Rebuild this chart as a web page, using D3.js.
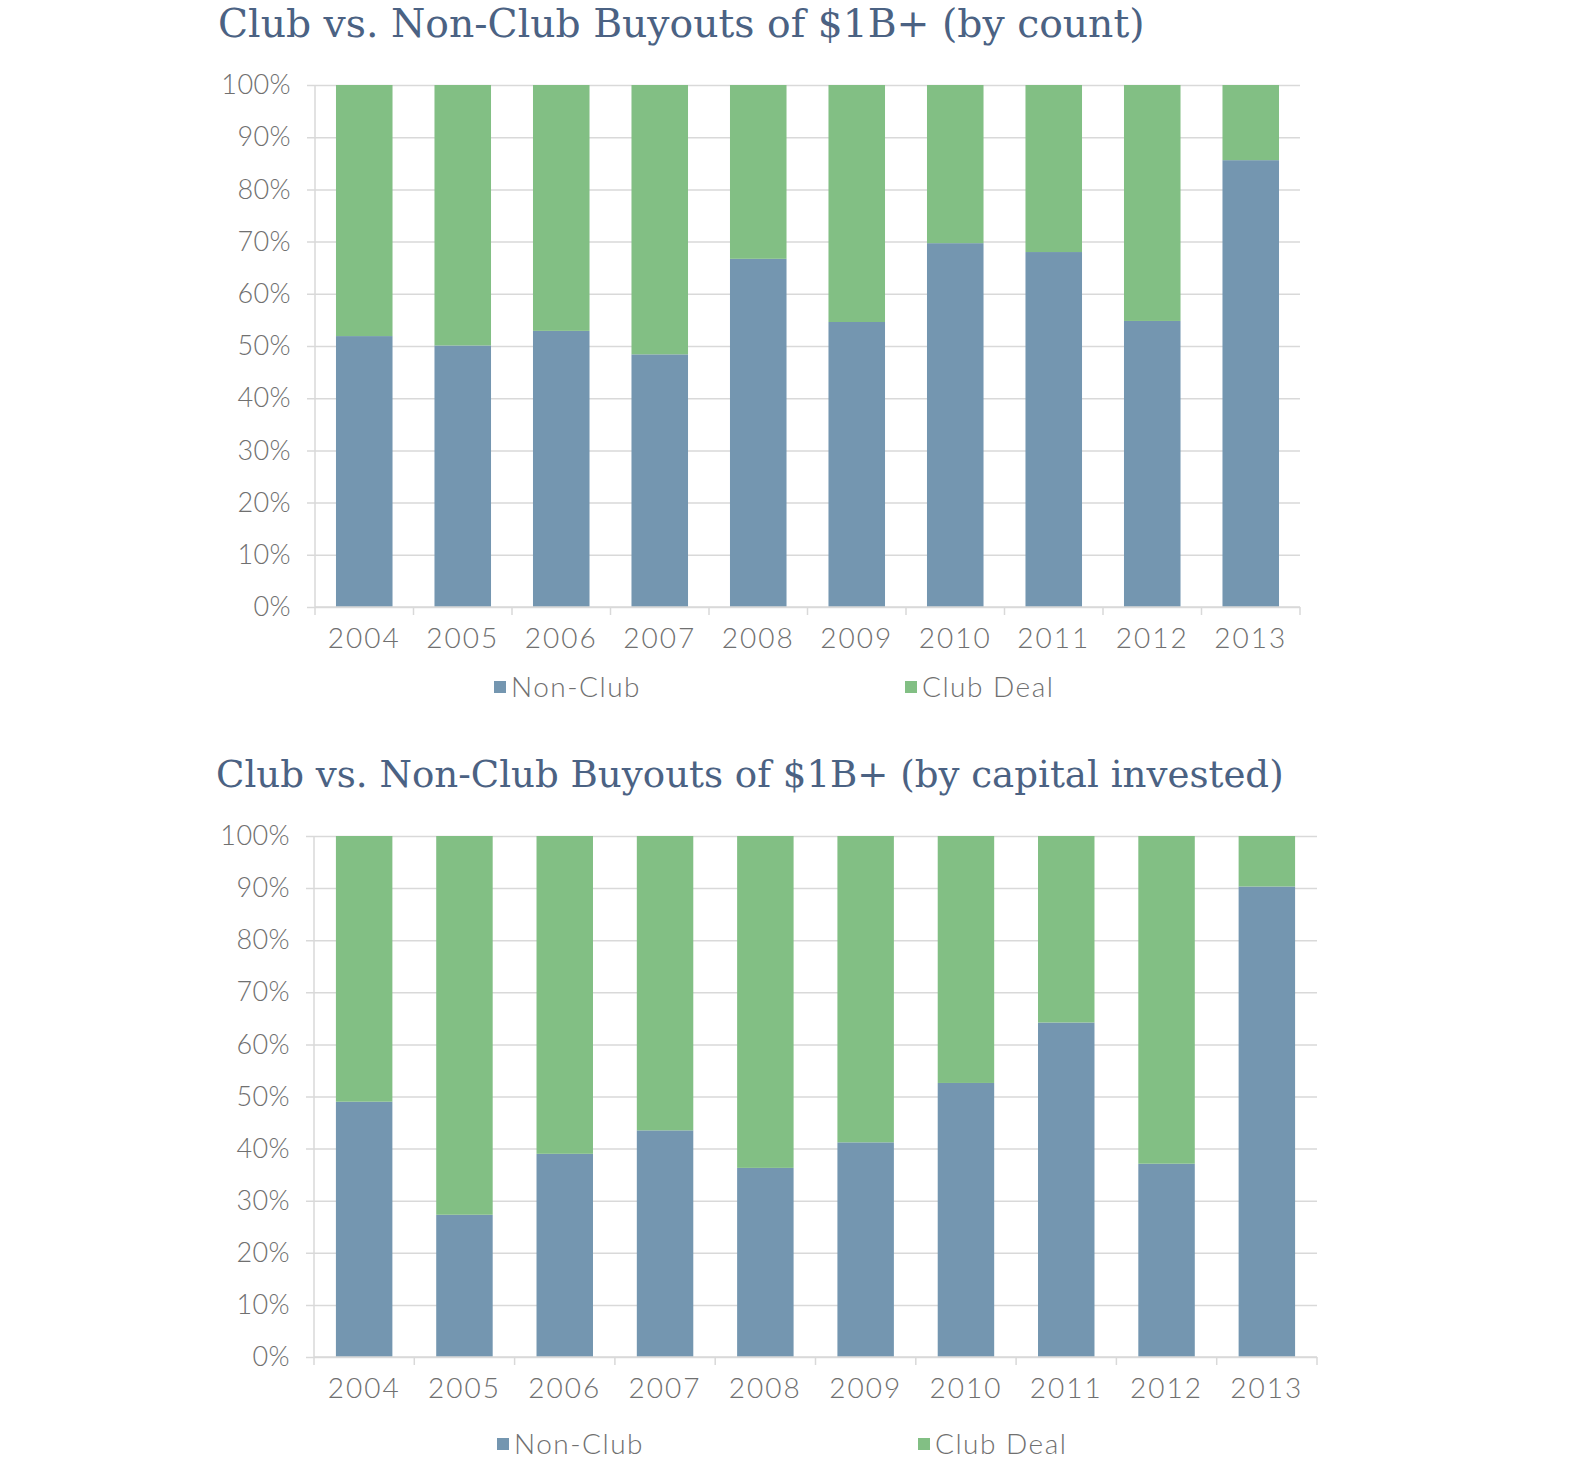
<!DOCTYPE html>
<html>
<head>
<meta charset="utf-8">
<script src="https://cdn.jsdelivr.net/npm/d3@7/dist/d3.min.js"></script>
<style>
  html, body { margin: 0; padding: 0; background: #fff; }
  svg { display: block; }
</style>
</head>
<body>
<svg id="chart" width="1570" height="1468"></svg>
<script>
// ---- DATA ----
const years = ["2004","2005","2006","2007","2008","2009","2010","2011","2012","2013"];
const seriesNames = ["Non-Club", "Club Deal"];
const yTicks = [0,10,20,30,40,50,60,70,80,90,100];

const countTitle = "Club vs. Non-Club Buyouts of $1B+ (by count)";
const countNonClub = [51.9, 50.1, 52.9, 48.4, 66.7, 54.6, 69.7, 68.0, 54.8, 85.6];
const countClub    = [48.1, 49.9, 47.1, 51.6, 33.3, 45.4, 30.3, 32.0, 45.2, 14.4];

const capitalTitle = "Club vs. Non-Club Buyouts of $1B+ (by capital invested)";
const capitalNonClub = [49.0, 27.3, 39.0, 43.5, 36.3, 41.2, 52.6, 64.2, 37.1, 90.3];
const capitalClub    = [51.0, 72.7, 61.0, 56.5, 63.7, 58.8, 47.4, 35.8, 62.9, 9.7];

// ---- STYLE ----
const colors = { "Non-Club": "#7496b0", "Club Deal": "#82bf84" };
const gridColor = "#d9d9d9";
const tickTextColor = "#707070";
const titleColor = "#4b6283";
const labelFont = "Lato, 'Open Sans', sans-serif";
const titleFont = "'DejaVu Serif', serif";

const svg = d3.select("#chart");

function drawChart(cfg) {
  const g = svg.append("g");
  const rows = years.map((yr, i) => ({ year: yr, "Non-Club": cfg.nonClub[i], "Club Deal": cfg.club[i] }));
  const stacked = d3.stack().keys(seriesNames)(rows);

  const x = d3.scaleBand().domain(years)
    .range([cfg.left, cfg.right])
    .paddingInner(cfg.pad).paddingOuter(cfg.pad / 2);
  const y = d3.scaleLinear().domain([0, 100]).range([cfg.bottom, cfg.top]);

  // Title
  const t = g.append("text")
    .attr("x", cfg.titleX).attr("y", cfg.titleY)
    .attr("font-family", titleFont)
    .attr("font-size", 38)
    .attr("fill", titleColor)
    .text(cfg.title);
  const w = t.node().getComputedTextLength();
  t.attr("font-size", 38 * cfg.titleW / w);

  // Gridlines + y axis
  const yAxis = d3.axisLeft(y).tickValues(yTicks)
    .tickSize(-(cfg.right - cfg.left) - 0).tickFormat(d => d + "%").tickPadding(16);
  const ya = g.append("g").attr("transform", `translate(${cfg.left},0)`).call(yAxis);
  ya.select(".domain").remove();
  ya.selectAll(".tick line")
    .attr("x1", -8).attr("x2", cfg.right - cfg.left)
    .attr("stroke", gridColor).attr("stroke-width", 1.5);
  ya.selectAll(".tick text")
    .attr("font-family", labelFont).attr("font-weight", 300)
    .attr("font-size", 27).attr("fill", tickTextColor)
    .attr("letter-spacing", 0.4)
    .attr("x", -24);
  g.append("line")
    .attr("x1", cfg.left).attr("x2", cfg.left)
    .attr("y1", y(100)).attr("y2", y(0))
    .attr("stroke", gridColor).attr("stroke-width", 1.5);

  // Bars
  g.append("g").selectAll("g").data(stacked).join("g")
    .attr("fill", d => colors[d.key])
    .selectAll("rect").data(d => d).join("rect")
    .attr("x", d => x(d.data.year))
    .attr("width", x.bandwidth())
    .attr("y", d => y(d[1]))
    .attr("height", d => y(d[0]) - y(d[1]));

  // X axis
  const xa = g.append("g").attr("transform", `translate(0,${cfg.bottom})`)
    .call(d3.axisBottom(x).tickSize(0).tickPadding(21));
  xa.select(".domain").attr("stroke", gridColor).attr("stroke-width", 1.5)
    .attr("d", `M${cfg.left},0H${cfg.right}`);
  xa.selectAll(".tick text")
    .attr("font-family", labelFont).attr("font-weight", 300)
    .attr("font-size", 28).attr("fill", tickTextColor)
    .attr("letter-spacing", 2);
  // category boundary ticks
  const bounds = years.map(yr => x(yr) - x.step() * x.paddingInner() / 2);
  bounds.push(cfg.right);
  xa.selectAll("line.bound").data(bounds).join("line")
    .attr("class", "bound")
    .attr("x1", d => d).attr("x2", d => d)
    .attr("y1", 0).attr("y2", 8)
    .attr("stroke", gridColor).attr("stroke-width", 1.5);

  // Legend
  const lg = g.append("g");
  seriesNames.forEach((name, i) => {
    const lx = cfg.legendX[i];
    lg.append("rect")
      .attr("x", lx).attr("y", cfg.legendY - 6)
      .attr("width", 12).attr("height", 12)
      .attr("fill", colors[name]);
    lg.append("text")
      .attr("x", lx + 17).attr("y", cfg.legendY)
      .attr("dy", "0.35em")
      .attr("font-family", labelFont).attr("font-weight", 300)
      .attr("font-size", 28).attr("fill", tickTextColor)
      .attr("letter-spacing", 1.5)
      .text(name);
  });
}

drawChart({
  title: countTitle, titleX: 218, titleY: 37, titleW: 927,
  nonClub: countNonClub, club: countClub,
  left: 315, right: 1300, top: 85, bottom: 607, pad: 0.426,
  legendX: [494, 905], legendY: 687
});

drawChart({
  title: capitalTitle, titleX: 216, titleY: 787, titleW: 1068,
  nonClub: capitalNonClub, club: capitalClub,
  left: 314, right: 1317, top: 836, bottom: 1357, pad: 0.437,
  legendX: [497, 918], legendY: 1444
});
</script>
</body>
</html>
